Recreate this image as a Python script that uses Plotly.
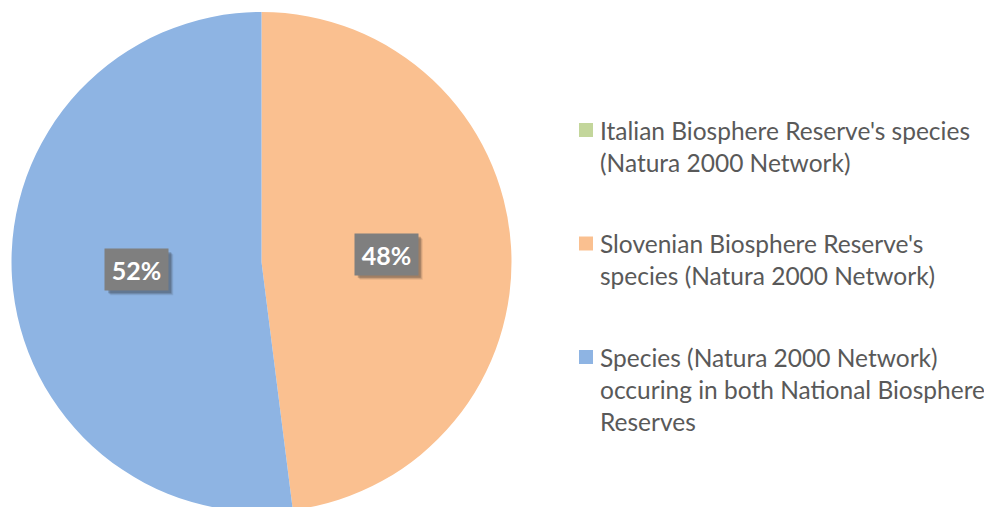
import math

import plotly.graph_objects as go

labels = [
    "Italian Biosphere Reserve's species<br>(Natura 2000 Network)",
    "Slovenian Biosphere Reserve's<br>species (Natura 2000 Network)",
    "Species (Natura 2000 Network)<br>occuring in both National Biosphere<br>Reserves",
]
values = [0, 48, 52]
colors = ["#C3D69B", "#FAC090", "#8EB4E3"]

W, H = 992, 507
OFF = 8  # page body margin pushes the figure 8px right/down
cx, cy, r = 261.5 - OFF, 262 - OFF, 250


def px(x):
    return (x - OFF) / W


def py(y):
    return 1 - (y - OFF) / H


fig = go.Figure(
    go.Pie(
        labels=labels,
        values=values,
        sort=False,
        direction="clockwise",
        rotation=0,
        marker=dict(colors=colors, line=dict(width=0)),
        textinfo="none",
        hoverinfo="label+percent",
        showlegend=False,
        domain=dict(x=[(cx - r) / W, (cx + r) / W],
                    y=[1 - (cy + r) / H, 1 - (cy - r) / H]),
    )
)

# percent boxes, placed halfway out along each slice's mid angle
total = sum(values)
start = 0.0
for v in values:
    frac = v / total
    if v > 0:
        ang = math.radians((start + frac / 2) * 360)
        lx = cx + OFF + 0.5 * r * math.sin(ang)
        ly = cy + OFF - 0.5 * r * math.cos(ang)
        # soft drop shadow behind the box
        for k, a in [(5, 0.10), (4, 0.15), (3, 0.25)]:
            fig.add_shape(
                type="rect", xref="paper", yref="paper",
                x0=px(lx - 31.5 + k), x1=px(lx + 31.5 + k),
                y0=py(ly - 20.5 + k), y1=py(ly + 20.5 + k),
                fillcolor=f"rgba(40,40,40,{a})", line=dict(width=0),
            )
        fig.add_annotation(
            x=px(lx), y=py(ly),
            xref="paper", yref="paper",
            xanchor="center", yanchor="middle",
            text=f"<b>{round(frac * 100)}%</b>",
            showarrow=False,
            font=dict(family="Lato", size=25, color="white"),
            bgcolor="#7F7F7F", borderpad=4, width=55, height=33,
        )
    start += frac

# legend drawn as markers + text
for i, (lab, col) in enumerate(zip(labels, colors)):
    y0 = 130 + 113.5 * i
    fig.add_shape(
        type="rect", xref="paper", yref="paper",
        x0=px(579), x1=px(593),
        y0=py(y0 - 7), y1=py(y0 + 7),
        fillcolor=col, line=dict(width=0),
    )
    for j, line in enumerate(lab.split("<br>")):
        fig.add_annotation(
            x=px(598), y=py(y0 + 32 * j),
            xref="paper", yref="paper",
            xanchor="left", yanchor="middle",
            text=line, showarrow=False,
            font=dict(family="Lato", size=24.5, color="#595959"),
        )

fig.update_layout(
    width=W, height=H,
    margin=dict(l=0, r=0, t=0, b=0),
    paper_bgcolor="white",
    plot_bgcolor="white",
)

fig.write_html("out.html")
